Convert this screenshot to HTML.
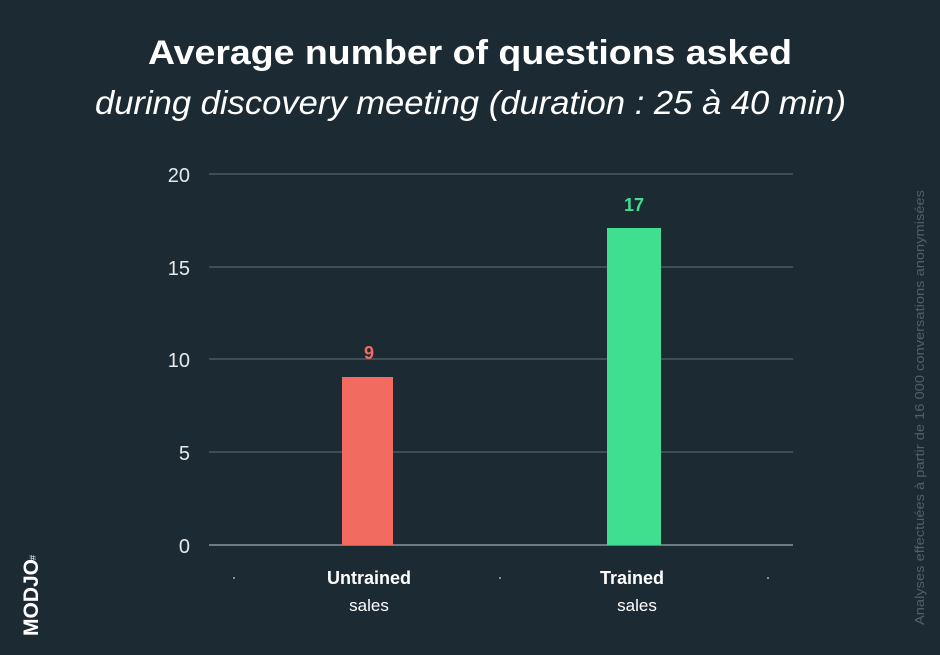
<!DOCTYPE html>
<html><head><meta charset="utf-8"><style>
html,body{margin:0;padding:0;background:#1c2b33;}
svg{display:block;font-family:"Liberation Sans",sans-serif;}
</style></head><body>
<svg width="940" height="655" viewBox="0 0 940 655">
<rect width="940" height="655" fill="#1c2b33"/>
<text x="148" y="64" fill="#fff" font-size="34" font-weight="bold" textLength="644" lengthAdjust="spacingAndGlyphs">Average number of questions asked</text>
<text x="95" y="114" fill="#fff" font-size="33" font-style="italic" textLength="751" lengthAdjust="spacingAndGlyphs">during discovery meeting (duration : 25 à 40 min)</text>
<g stroke="#4a5a61" stroke-width="1.5">
<line x1="209" y1="174" x2="793" y2="174"/>
<line x1="209" y1="267" x2="793" y2="267"/>
<line x1="209" y1="359" x2="793" y2="359"/>
<line x1="209" y1="452" x2="793" y2="452"/>
</g>
<line x1="209" y1="545" x2="793" y2="545" stroke="#8a979c" stroke-width="1.5"/>
<g fill="#e6e9ea" font-size="20" text-anchor="end">
<text x="190" y="182">20</text>
<text x="190" y="275">15</text>
<text x="190" y="367">10</text>
<text x="190" y="460">5</text>
<text x="190" y="553">0</text>
</g>
<rect x="342" y="377" width="51" height="168" fill="#f26b61"/>
<rect x="607" y="228" width="54" height="317" fill="#40de8f"/>
<text x="369" y="359" text-anchor="middle" fill="#f26b61" font-size="18" font-weight="bold">9</text>
<text x="634" y="211" text-anchor="middle" fill="#40de8f" font-size="18" font-weight="bold">17</text>
<g fill="#fff" text-anchor="middle" font-size="18">
<text x="369" y="584" font-weight="bold">Untrained</text>
<text x="369" y="611" font-size="17">sales</text>
<text x="632" y="584" font-weight="bold">Trained</text>
<text x="637" y="611" font-size="17">sales</text>
</g>
<g fill="#aab"><circle cx="234" cy="578" r="1"/><circle cx="500" cy="578" r="1"/><circle cx="768" cy="578" r="1"/></g>
<text transform="translate(924,625) rotate(-90)" fill="#4f6068" font-size="13" textLength="435" lengthAdjust="spacingAndGlyphs">Analyses effectuées à partir de 16 000 conversations anonymisées</text>
<text transform="translate(38,636) rotate(-90)" fill="#fff" font-size="21" font-weight="bold">MODJO</text>
<text transform="translate(36,560) rotate(-90)" fill="#fff" font-size="9">#</text>
</svg>
</body></html>
